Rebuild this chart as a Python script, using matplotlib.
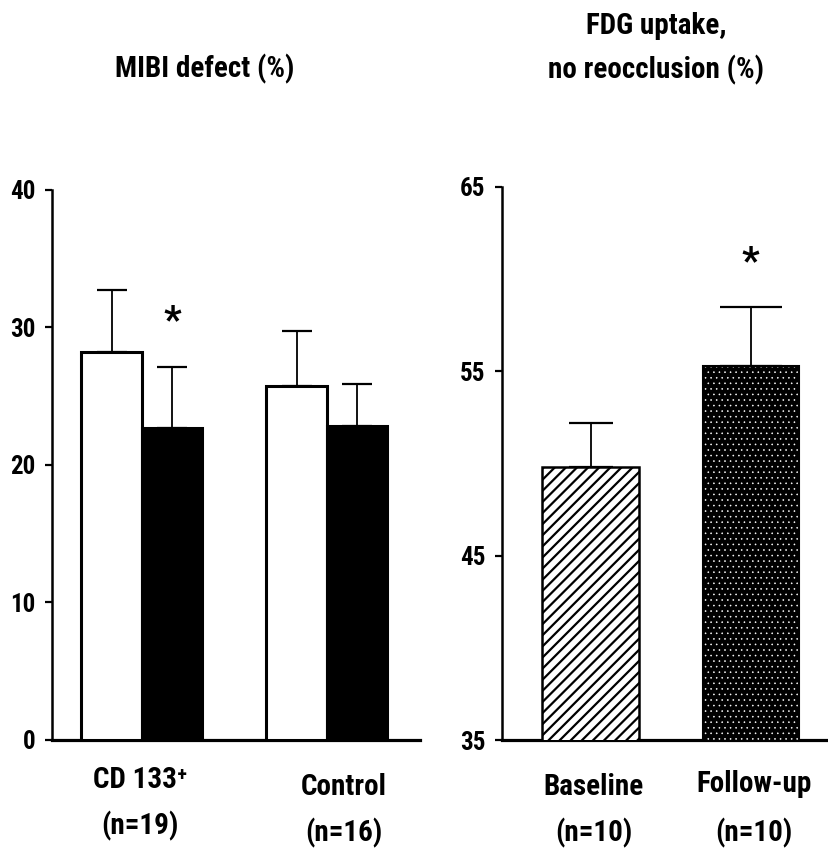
import numpy as np
import matplotlib
matplotlib.use('Agg')
import matplotlib.pyplot as plt
import matplotlib.transforms as mtransforms

# condensed bold sans, like Arial Narrow; falls back to the next installed one
FONT = ['Liberation Sans Narrow', 'Arial Narrow', 'Roboto Condensed', 'PT Sans Narrow',
        'Archivo Narrow', 'Liberation Sans', 'DejaVu Sans']
plt.rcParams['font.family'] = FONT
plt.rcParams['font.weight'] = 'bold'
plt.rcParams['hatch.linewidth'] = 1.6

# left panel: MIBI defect (%)
groups = ['CD 133\u207a', 'Control']
groups_n = ['(n=19)', '(n=16)']
mibi_before = [28.2, 25.7]
mibi_before_err = [4.5, 4.05]
mibi_after = [22.7, 22.8]
mibi_after_err = [4.4, 3.05]

# right panel: FDG uptake, no reocclusion (%)
fdg_labels = ['Baseline', 'Follow-up']
fdg_n = ['(n=10)', '(n=10)']
fdg_vals = [49.8, 55.3]
fdg_err = [2.4, 3.2]

fig = plt.figure(figsize=(8.29, 8.49), dpi=100)

# ---- left
ax1 = fig.add_axes([52/829, 1-739.5/849, 368/829, (739.5-189.9)/849])
x = np.arange(len(groups))
w = 0.327
ax1.bar(x - w/2, mibi_before, w, color='white', edgecolor='black', linewidth=2.2, zorder=3)
ax1.bar(x + w/2, mibi_after, w, color='black', edgecolor='black', linewidth=2.2, zorder=3)
ax1.errorbar(x - w/2, mibi_before, yerr=[np.zeros(2), mibi_before_err], fmt='none',
             ecolor='black', elinewidth=1.3, capsize=11, capthick=1.6, zorder=2)
ax1.errorbar(x + w/2, mibi_after, yerr=[np.zeros(2), mibi_after_err], fmt='none',
             ecolor='black', elinewidth=1.3, capsize=11, capthick=1.6, zorder=2)
ax1.text(x[0] + w/2, 30.4, '*', ha='center', va='center', fontsize=28)
ax1.set_xlim(-0.486, 1.503)
ax1.set_ylim(0, 40)
ax1.set_yticks([0, 10, 20, 30, 40])
ax1.set_xticks([])

# ---- right
ax2 = fig.add_axes([502/829, 1-740/849, 327/829, (740-187)/849])
xr = np.arange(len(fdg_labels))
wr = 0.6
ax2.bar(xr[0], fdg_vals[0], wr, color='white', edgecolor='black',
        hatch='///', linewidth=1.8, zorder=3)
with plt.rc_context({'hatch.linewidth': 0.4}):
    ax2.bar(xr[1], fdg_vals[1], wr, color='black', edgecolor='white', hatch='...',
            linewidth=0, zorder=3)
ax2.bar(xr[1], fdg_vals[1], wr, fill=False, edgecolor='black', linewidth=1.5, zorder=4)
ax2.errorbar(xr[0], fdg_vals[0], yerr=[[0], [fdg_err[0]]], fmt='none', ecolor='black',
             elinewidth=1.3, capsize=16, capthick=1.6, zorder=2)
ax2.errorbar(xr[1], fdg_vals[1], yerr=[[0], [fdg_err[1]]], fmt='none', ecolor='black',
             elinewidth=1.3, capsize=22, capthick=1.6, zorder=2)
ax2.text(xr[1], 60.9, '*', ha='center', va='center', fontsize=28)
ax2.set_xlim(-0.553, 1.49)
ax2.set_ylim(35, 65)
ax2.set_yticks([35, 45, 55, 65])
ax2.set_xticks([])

for ax in (ax1, ax2):
    ax.spines['top'].set_visible(False)
    ax.spines['right'].set_visible(False)
    ax.spines['left'].set_linewidth(1.8)
    ax.spines['bottom'].set_linewidth(2.3)
    ax.tick_params(axis='y', direction='out', length=5, width=1.6, labelsize=18, pad=7)
    for t in ax.get_yticklabels():
        t.set_fontweight('bold')

# category labels under the axes (x in data units, y in figure pixels)
tr1 = mtransforms.blended_transform_factory(ax1.transData, fig.transFigure)
tr2 = mtransforms.blended_transform_factory(ax2.transData, fig.transFigure)
left_shift = [-0.01, 0.09]
left_y = [788, 795]
for i in range(len(groups)):
    ax1.text(x[i] + left_shift[i], 1 - left_y[i]/849, groups[i], transform=tr1,
             ha='center', va='baseline', fontsize=21)
    ax1.text(x[i] + left_shift[i], 1 - (left_y[i] + 46)/849, groups_n[i], transform=tr1,
             ha='center', va='baseline', fontsize=21)
right_y = [795, 792]
for i in range(len(fdg_labels)):
    ax2.text(xr[i] + 0.02, 1 - right_y[i]/849, fdg_labels[i], transform=tr2,
             ha='center', va='baseline', fontsize=21)
    ax2.text(xr[i] + 0.02, 1 - 841/849, fdg_n[i], transform=tr2,
             ha='center', va='baseline', fontsize=21)

fig.text(205/829, 1-77/849, 'MIBI defect (%)', ha='center', va='baseline', fontsize=21)
fig.text(656/829, 1-34/849, 'FDG uptake,', ha='center', va='baseline', fontsize=21)
fig.text(656/829, 1-78/849, 'no reocclusion (%)', ha='center', va='baseline', fontsize=21)

fig.savefig('out.png', dpi=100)
